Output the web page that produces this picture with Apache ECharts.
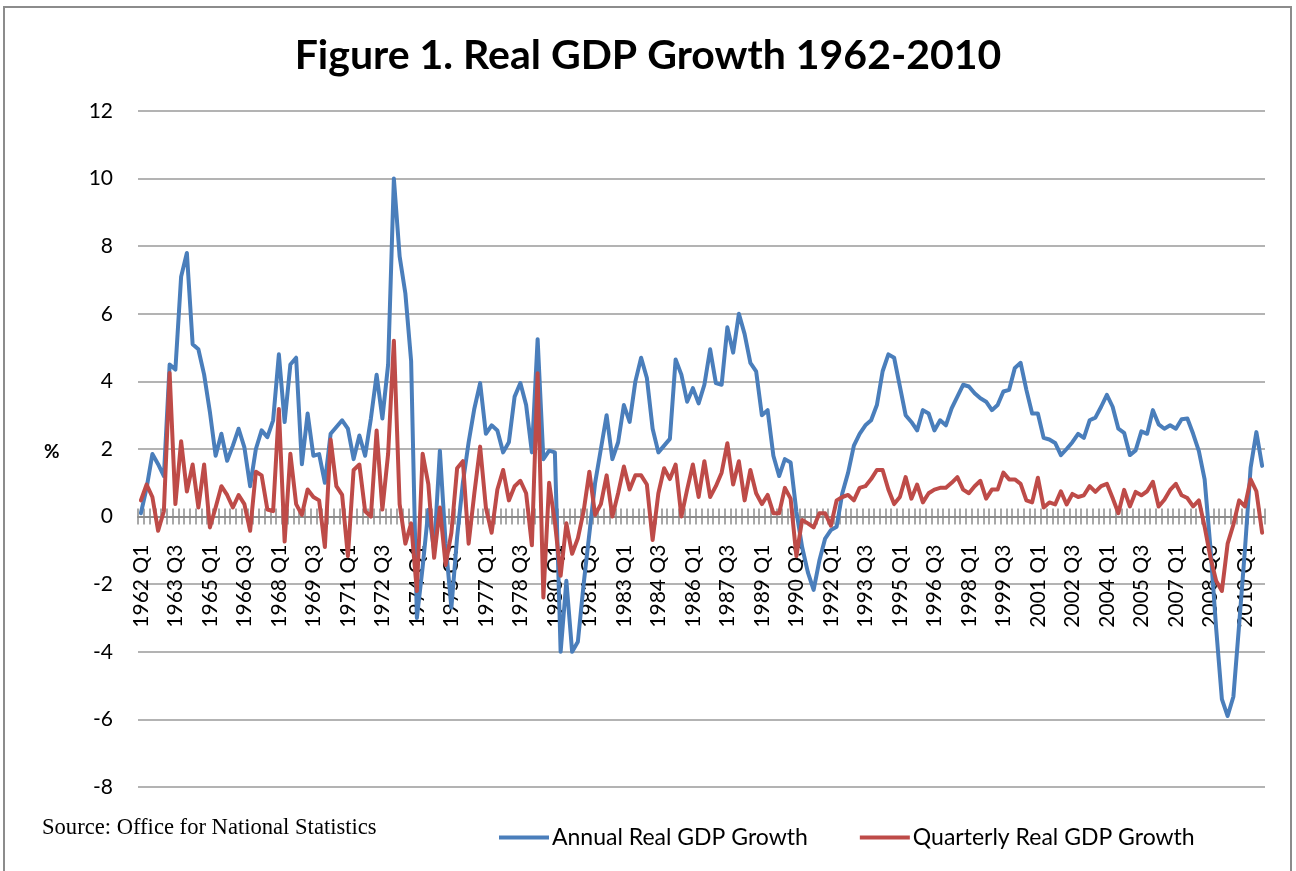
<!DOCTYPE html>
<html>
<head>
<meta charset="utf-8">
<title>Figure 1. Real GDP Growth 1962-2010</title>
<script src="https://cdn.jsdelivr.net/npm/echarts@6/dist/echarts.min.js"></script>
<style>
  html, body { margin: 0; padding: 0; background: #ffffff; }
  #chart { width: 1296px; height: 871px; }
</style>
</head>
<body>
<div id="chart"></div>
<script>
// Quarters 1962 Q1 .. 2010 Q4
const firstYear = 1962;
const lastYear = 2010;
const quarterNames = ['Q1', 'Q2', 'Q3', 'Q4'];

// Y axis ticks (%)
const yTicks = [-8, -6, -4, -2, 0, 2, 4, 6, 8, 10, 12];

// Annual real GDP growth, % (one line = two years)
const annualGrowth = [
  0.1, 0.85, 1.85, 1.55, 1.2, 4.5, 4.35, 7.1,
  7.8, 5.1, 4.95, 4.2, 3.1, 1.8, 2.45, 1.65,
  2.1, 2.6, 2.05, 0.9, 2.0, 2.55, 2.35, 2.85,
  4.8, 2.8, 4.5, 4.7, 1.55, 3.05, 1.8, 1.85,
  1.0, 2.45, 2.65, 2.85, 2.6, 1.7, 2.4, 1.8,
  2.9, 4.2, 2.9, 4.5, 10.0, 7.7, 6.6, 4.6,
  -3.0, -1.5, 0.2, -1.0, 1.95, -0.8, -2.7, -0.6,
  1.0, 2.2, 3.2, 3.95, 2.45, 2.7, 2.55, 1.9,
  2.2, 3.55, 3.95, 3.3, 1.9, 5.25, 1.7, 1.95,
  1.9, -4.0, -1.9, -4.0, -3.7, -2.0, -0.5, 1.0,
  2.0, 3.0, 1.7, 2.2, 3.3, 2.8, 4.0, 4.7,
  4.1, 2.6, 1.9, 2.1, 2.3, 4.65, 4.2, 3.4,
  3.8, 3.35, 3.9, 4.95, 3.95, 3.9, 5.6, 4.85,
  6.0, 5.4, 4.55, 4.3, 3.0, 3.15, 1.8, 1.2,
  1.7, 1.6, 0.15, -0.9, -1.65, -2.17, -1.3, -0.65,
  -0.4, -0.3, 0.7, 1.3, 2.1, 2.45, 2.7, 2.85,
  3.3, 4.3, 4.8, 4.7, 3.85, 3.0, 2.8, 2.55,
  3.15, 3.05, 2.55, 2.85, 2.7, 3.2, 3.55, 3.9,
  3.85, 3.65, 3.5, 3.4, 3.15, 3.3, 3.7, 3.75,
  4.4, 4.55, 3.75, 3.05, 3.05, 2.33, 2.28, 2.18,
  1.82, 2.0, 2.2, 2.45, 2.33, 2.85, 2.93, 3.25,
  3.6, 3.25, 2.6, 2.48, 1.82, 1.96, 2.52, 2.45,
  3.15, 2.73, 2.6, 2.7, 2.6, 2.88, 2.9, 2.45,
  1.94, 1.1, -0.9, -3.3, -5.4, -5.9, -5.33, -3.2,
  -1.0, 1.45, 2.5, 1.5
];

// Quarterly real GDP growth, % (one line = two years)
const quarterlyGrowth = [
  0.48, 0.95, 0.58, -0.42, 0.16, 4.25, 0.37, 2.23,
  0.74, 1.54, 0.27, 1.54, -0.32, 0.27, 0.9, 0.64,
  0.27, 0.64, 0.37, -0.42, 1.33, 1.22, 0.21, 0.16,
  3.18, -0.74, 1.86, 0.37, 0.05, 0.8, 0.58, 0.48,
  -0.9, 2.28, 0.9, 0.64, -1.17, 1.38, 1.54, 0.16,
  0.0, 2.55, 0.21, 1.86, 5.2, 0.37, -0.8, -0.2,
  -2.2, 1.86, 0.95, -1.22, 0.27, -1.43, -0.48, 1.43,
  1.64, -0.8, 0.7, 2.07, 0.27, -0.48, 0.8, 1.38,
  0.48, 0.9, 1.06, 0.69, -0.85, 4.24, -2.39, 1.0,
  -0.16, -1.75, -0.2, -1.1, -0.64, 0.16, 1.33, 0.05,
  0.37, 1.22, 0.0, 0.69, 1.48, 0.8, 1.22, 1.22,
  0.95, -0.69, 0.69, 1.43, 1.11, 1.54, 0.0, 0.8,
  1.54, 0.58, 1.64, 0.58, 0.9, 1.3, 2.17, 0.95,
  1.64, 0.48, 1.38, 0.69, 0.37, 0.64, 0.1, 0.1,
  0.85, 0.53, -1.17, -0.1, -0.2, -0.32, 0.1, 0.1,
  -0.27, 0.48, 0.58, 0.64, 0.48, 0.85, 0.9, 1.11,
  1.38, 1.38, 0.8, 0.37, 0.58, 1.17, 0.53, 0.95,
  0.42, 0.69, 0.8, 0.85, 0.85, 1.0, 1.17, 0.8,
  0.69, 0.9, 1.06, 0.53, 0.8, 0.8, 1.3, 1.1,
  1.1, 0.97, 0.48, 0.42, 1.15, 0.27, 0.42, 0.36,
  0.75, 0.36, 0.67, 0.58, 0.63, 0.9, 0.73, 0.9,
  0.97, 0.55, 0.1, 0.79, 0.3, 0.73, 0.63, 0.75,
  1.03, 0.3, 0.5, 0.79, 0.97, 0.63, 0.55, 0.3,
  0.48, -0.3, -1.2, -1.9, -2.2, -0.8, -0.24, 0.48,
  0.3, 1.1, 0.75, -0.48
];

const quarters = [];
for (let y = firstYear; y <= lastYear; y++) {
  for (const q of quarterNames) quarters.push(y + ' ' + q);
}

const sansFont = 'Lato, "Open Sans", sans-serif';
const gridColor = '#9a9a9a';
const axisColor = '#8c8c8c';

const gridTop = 111;
const gridBottom = 84;
const chartHeight = 871;
// Distance from the plot's bottom edge up to the zero line; both category
// axes are lifted by this much so they sit on y = 0.
const plotHeight = chartHeight - gridTop - gridBottom;
const zeroLift = plotHeight * (0 - yTicks[0]) / (yTicks[yTicks.length - 1] - yTicks[0]);

const chart = echarts.init(document.getElementById('chart'), null, { renderer: 'canvas' });

chart.setOption({
  animation: false,
  backgroundColor: '#ffffff',
  title: {
    text: 'Figure 1. Real GDP Growth 1962-2010',
    left: 'center',
    top: 30,
    textStyle: { fontFamily: sansFont, fontWeight: 'bold', fontSize: 41, color: '#000000' }
  },
  graphic: [
    {
      type: 'rect',
      shape: { x: 4, y: 7, width: 1287, height: 880 },
      style: { fill: 'none', stroke: '#8c8c8c', lineWidth: 2 },
      silent: true
    },
    {
      type: 'text',
      left: 42,
      top: 817,
      style: {
        text: 'Source: Office for National Statistics',
        fontFamily: '"Liberation Serif", "Times New Roman", serif',
        fontSize: 22.6,
        fill: '#000000'
      }
    },
    {
      type: 'text',
      left: 44,
      top: 442,
      style: {
        text: '%',
        fontFamily: sansFont,
        fontWeight: 'bold',
        fontSize: 19,
        fill: '#000000'
      }
    }
  ],
  legend: {
    left: 494,
    top: 821,
    icon: 'rect',
    itemWidth: 50,
    itemHeight: 4,
    itemGap: 52,
    textStyle: { fontFamily: sansFont, fontSize: 23, color: '#000000', padding: [0, 0, 0, -2] },
    data: ['Annual Real GDP Growth', 'Quarterly Real GDP Growth']
  },
  grid: {
    left: 138, right: 31, top: gridTop, bottom: gridBottom,
    containLabel: false,
    outerBoundsMode: 'none'
  },
  xAxis: [
    {
      type: 'category',
      data: quarters,
      boundaryGap: true,
      position: 'bottom',
      offset: -zeroLift,
      axisLine: { show: true, onZero: false, lineStyle: { color: axisColor, width: 2 } },
      axisTick: { show: true, interval: 0, length: 8, inside: false, lineStyle: { color: axisColor, width: 1.5 } },
      axisLabel: {
        interval: 5,
        rotate: 90,
        margin: 28,
        fontFamily: sansFont,
        fontSize: 21,
        color: '#000000'
      },
      splitLine: { show: false }
    },
    {
      type: 'category',
      data: quarters,
      boundaryGap: true,
      position: 'bottom',
      offset: -zeroLift,
      axisLine: { show: false, onZero: false },
      axisTick: { show: true, interval: 0, length: 8, inside: true, lineStyle: { color: axisColor, width: 1.5 } },
      axisLabel: { show: false },
      splitLine: { show: false }
    }
  ],
  yAxis: {
    type: 'value',
    min: yTicks[0],
    max: yTicks[yTicks.length - 1],
    interval: 2,
    axisLine: { show: false },
    axisTick: { show: false },
    axisLabel: { fontFamily: sansFont, fontSize: 21, color: '#000000', margin: 25 },
    splitLine: { show: true, lineStyle: { color: gridColor, width: 1.5 } }
  },
  series: [
    {
      name: 'Annual Real GDP Growth',
      type: 'line',
      xAxisIndex: 0,
      data: annualGrowth,
      symbol: 'none',
      lineStyle: { color: '#4A7EBB', width: 4, join: 'round', cap: 'round' },
      itemStyle: { color: '#4A7EBB' },
      z: 3
    },
    {
      name: 'Quarterly Real GDP Growth',
      type: 'line',
      xAxisIndex: 0,
      data: quarterlyGrowth,
      symbol: 'none',
      lineStyle: { color: '#BE4B48', width: 4, join: 'round', cap: 'round' },
      itemStyle: { color: '#BE4B48' },
      z: 4
    }
  ]
});
</script>
</body>
</html>
